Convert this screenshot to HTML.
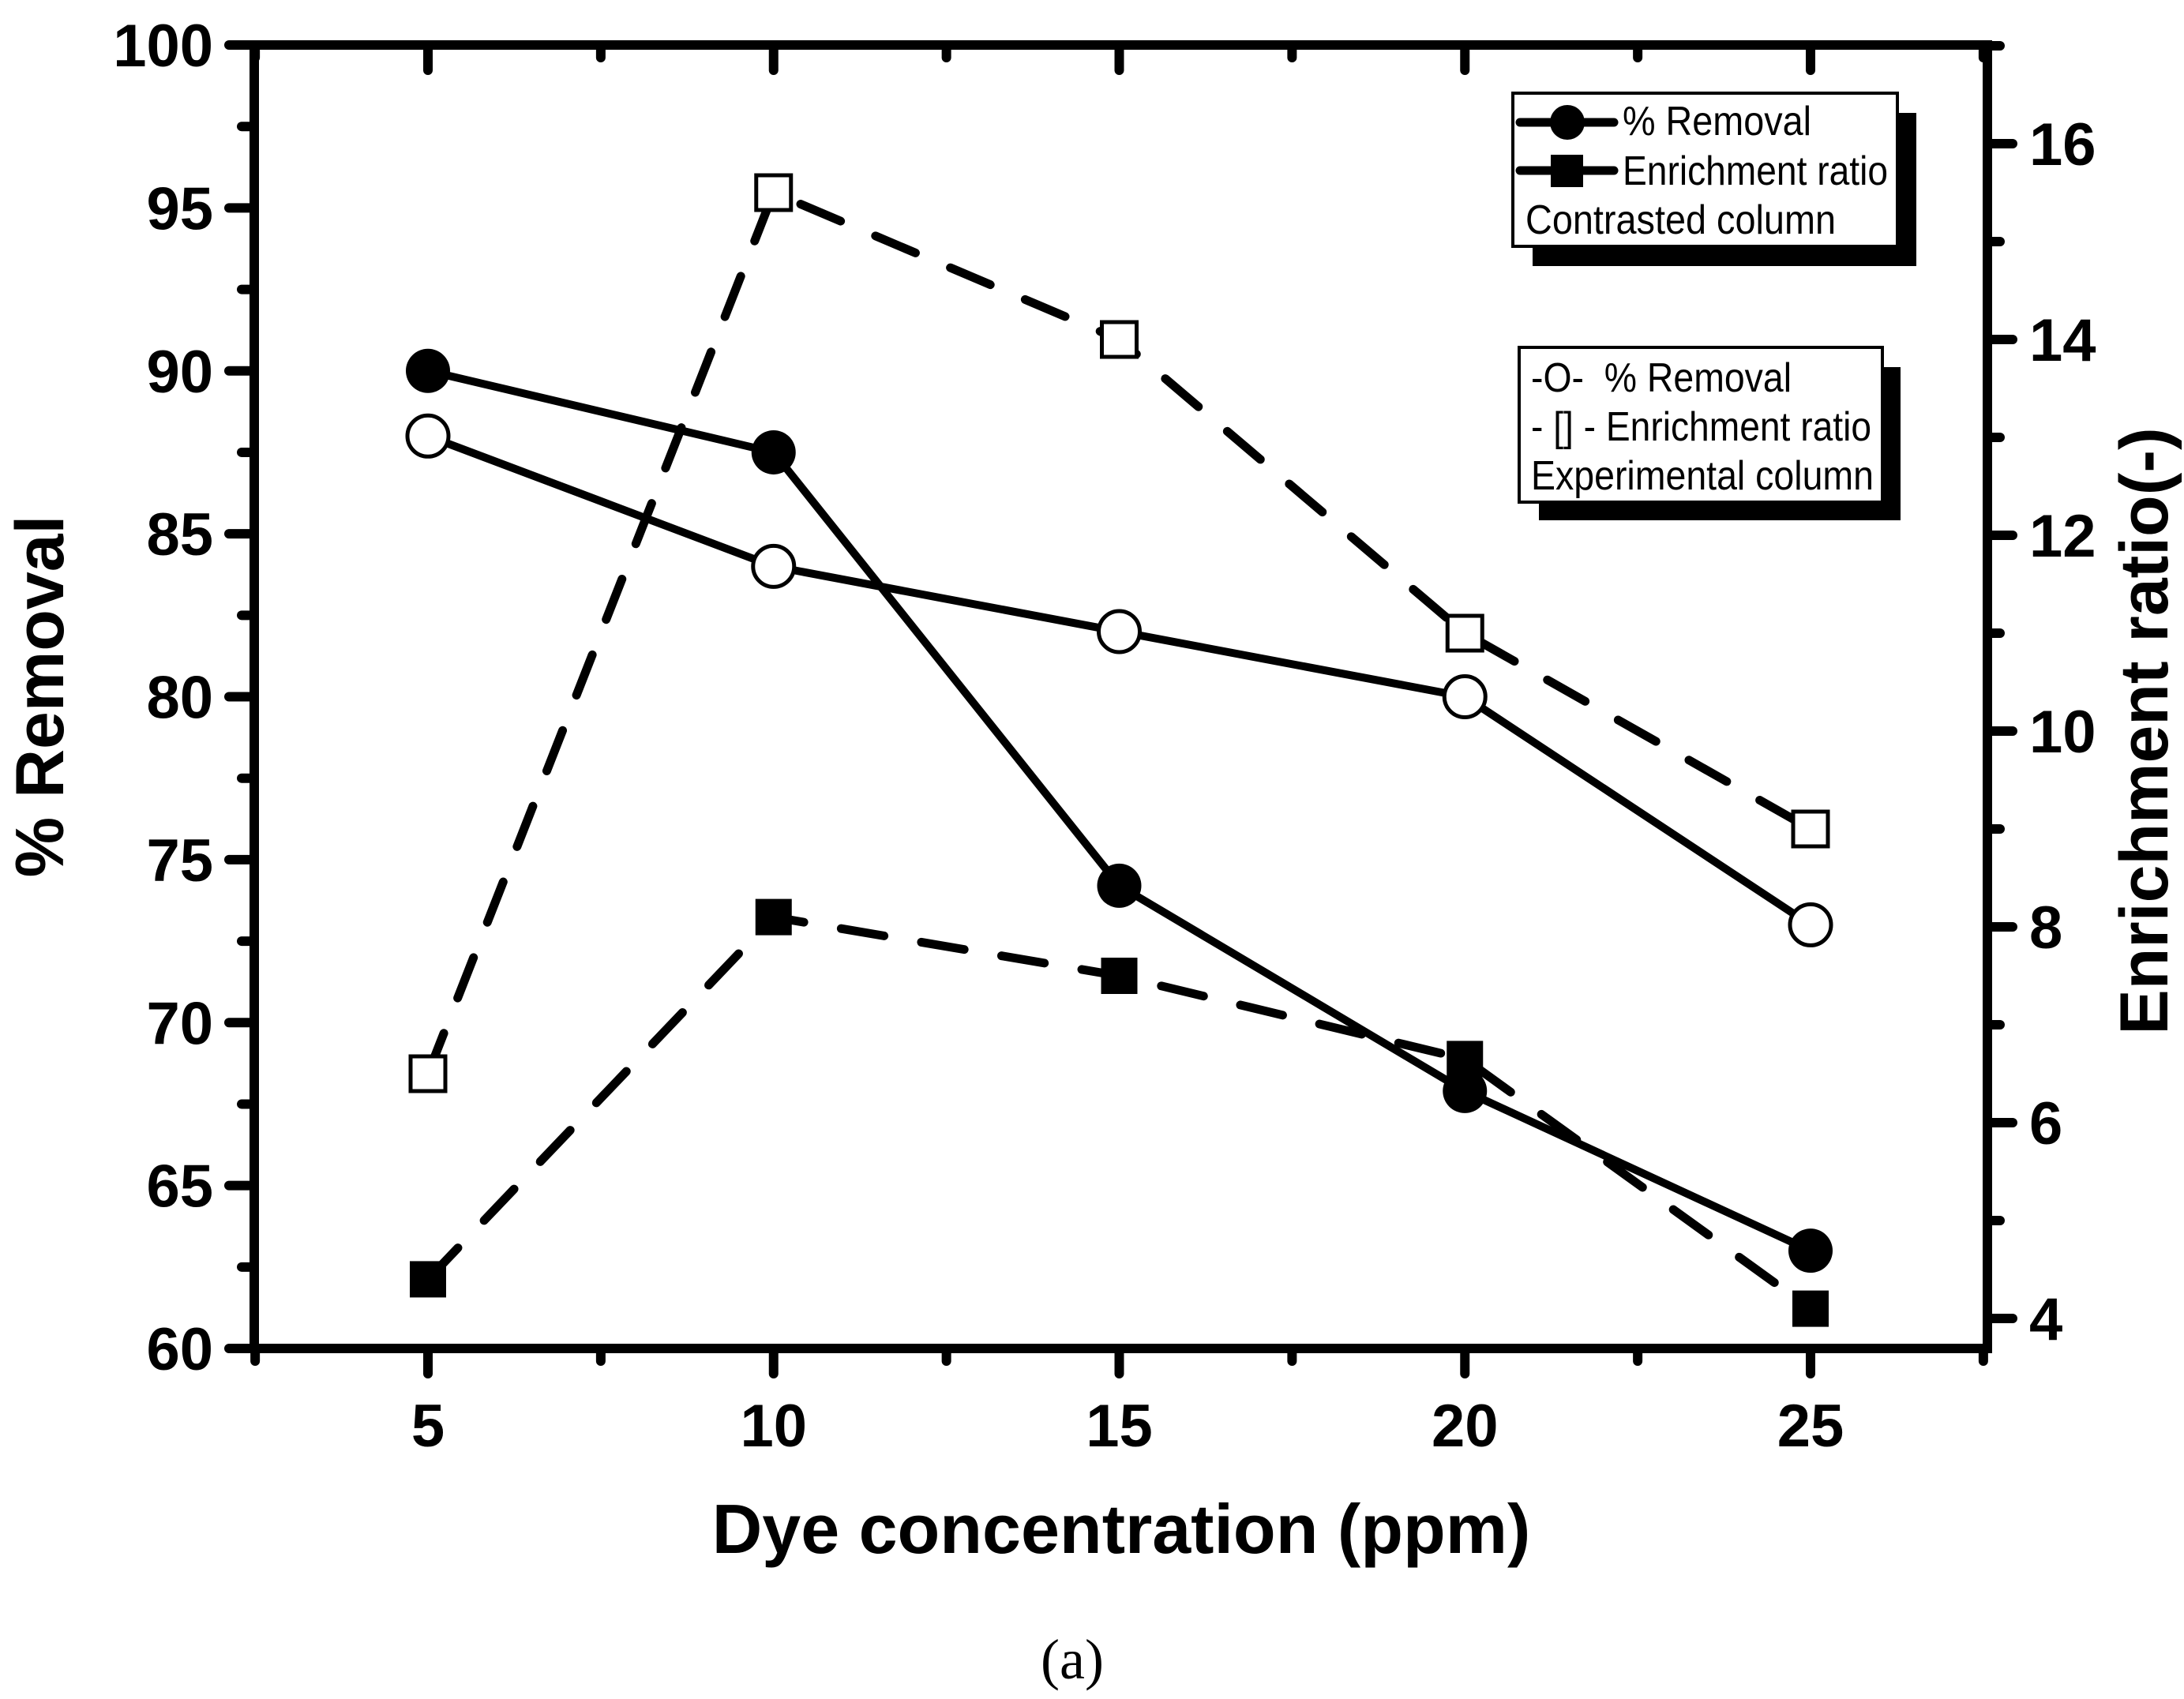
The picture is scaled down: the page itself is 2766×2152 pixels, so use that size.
<!DOCTYPE html>
<html><head><meta charset="utf-8"><style>
html,body{margin:0;padding:0;background:#fff;}
svg{display:block;}
</style></head><body>
<svg id="chart" width="2766" height="2152" viewBox="0 0 2766 2152" xmlns="http://www.w3.org/2000/svg" font-family="'Liberation Sans', sans-serif">
<rect width="2766" height="2152" fill="#fff"/>
<g id="series"></g>
<g id="axes"></g>
<text transform="translate(80,882) rotate(-90)" text-anchor="middle" font-size="86" font-weight="bold">% Removal</text>
<text transform="translate(2745,926) rotate(-90)" text-anchor="middle" font-size="86" font-weight="bold">Enrichment ratio(-)</text>
<text x="1420" y="1967" text-anchor="middle" font-size="88" font-weight="bold">Dye concentration (ppm)</text>
<text x="1358" y="2126" text-anchor="middle" font-size="72" font-family="'Liberation Serif', serif">(a)</text>
<g>
<rect x="1941" y="143" width="486" height="194" fill="#000"/>
<rect x="1916" y="118" width="487" height="194" fill="#fff" stroke="#000" stroke-width="4"/>
<line x1="1925" y1="155" x2="2044" y2="155" stroke="#000" stroke-width="11" stroke-linecap="round"/>
<circle cx="1985" cy="155" r="22" fill="#000"/>
<text x="2055" y="171" font-size="52" textLength="239" lengthAdjust="spacingAndGlyphs">% Removal</text>
<line x1="1925" y1="216" x2="2044" y2="216" stroke="#000" stroke-width="11" stroke-linecap="round"/>
<rect x="1964" y="196" width="41" height="41" fill="#000"/>
<text x="2055" y="234" font-size="52" textLength="336" lengthAdjust="spacingAndGlyphs">Enrichment ratio</text>
<text x="1932" y="296" font-size="52" textLength="393" lengthAdjust="spacingAndGlyphs">Contrasted column</text>
</g>
<g>
<rect x="1949" y="465" width="458" height="194" fill="#000"/>
<rect x="1924" y="440" width="460" height="196" fill="#fff" stroke="#000" stroke-width="4"/>
<text x="1939" y="496" font-size="52" textLength="330" lengthAdjust="spacingAndGlyphs">-O-&#160; % Removal</text>
<text x="1939" y="558" font-size="52" textLength="431" lengthAdjust="spacingAndGlyphs">- [] - Enrichment ratio</text>
<text x="1939" y="620" font-size="52" textLength="434" lengthAdjust="spacingAndGlyphs">Experimental column</text>
</g>
</svg>
<script>
const categories = [5, 10, 15, 20, 25];
const removalContrasted = [90, 87.5, 74.2, 67.9, 63.0];
const removalExperimental = [88, 84, 82, 80, 73];
const enrichmentContrasted = [4.4, 8.1, 7.5, 6.65, 4.1];
const enrichmentExperimental = [6.5, 15.5, 14.0, 11.0, 9.0];
const xTickLabels = [5, 10, 15, 20, 25];
const yTickLabels = [60, 65, 70, 75, 80, 85, 90, 95, 100];
const y2TickLabels = [4, 6, 8, 10, 12, 14, 16];

const L = 322, R = 2517, T = 57, B = 1708;
const X = v => 542 + (v - 5) * (2293 - 542) / 20;
const Y = v => B - (v - 60) * (B - T) / 40;
const Y2 = v => 1670 - (v - 4) * 124;
const NS = 'http://www.w3.org/2000/svg';
const ser = document.getElementById('series');
const axes = document.getElementById('axes');
function mk(tag, attrs, parent) {
  const e = document.createElementNS(NS, tag);
  for (const k in attrs) e.setAttribute(k, attrs[k]);
  parent.appendChild(e);
  return e;
}
function path(vals, yf, dashed, name) {
  const d = vals.map((v, i) => (i ? 'L' : 'M') + X(categories[i]) + ' ' + yf(v)).join(' ');
  const p = mk('path', {d: d, fill: 'none', stroke: '#000', 'stroke-width': dashed ? 11 : 10, 'stroke-linecap': 'round', 'stroke-linejoin': 'round'}, ser);
  if (dashed) p.setAttribute('stroke-dasharray', '55 48');
  
  
}
path(enrichmentExperimental, Y2, true, 'line-enrichment-experimental');
path(enrichmentContrasted, Y2, true, 'line-enrichment-contrasted');
path(removalExperimental, Y, false, 'line-removal-experimental');
path(removalContrasted, Y, false, 'line-removal-contrasted');
removalExperimental.forEach((v, i) => {
  const c = mk('circle', {cx: X(categories[i]), cy: Y(v), r: 26, fill: '#fff', stroke: '#000', 'stroke-width': 5}, ser);
  
  
});
removalContrasted.forEach((v, i) => {
  const c = mk('circle', {cx: X(categories[i]), cy: Y(v), r: 28, fill: '#000'}, ser);
  
  
});
enrichmentExperimental.forEach((v, i) => {
  const c = mk('rect', {x: X(categories[i]) - 22, y: Y2(v) - 22, width: 44, height: 44, fill: '#fff', stroke: '#000', 'stroke-width': 5}, ser);
  
  
});
enrichmentContrasted.forEach((v, i) => {
  const c = mk('rect', {x: X(categories[i]) - 23, y: Y2(v) - 23, width: 46, height: 46, fill: '#000'}, ser);
  
  
});
const frame = mk('rect', {x: L, y: T, width: R - L, height: B - T, fill: 'none', stroke: '#000', 'stroke-width': 12}, axes);


function tick(x1, y1, x2, y2, name) {
  const t = mk('line', {x1: x1, y1: y1, x2: x2, y2: y2, stroke: '#000', 'stroke-width': 12, 'stroke-linecap': 'round'}, axes);
  
  
}
for (let v = 2.5; v <= 27.6; v += 2.5) {
  const major = xTickLabels.includes(v);
  const len = major ? 32 : 16;
  tick(X(v), B, X(v), B + len, 'x-tick');
  tick(X(v), T, X(v), T + len, 'x-tick-top');
}
xTickLabels.forEach(v => {
  const t = mk('text', {x: X(v), y: 1832, 'text-anchor': 'middle', 'font-size': 76, 'font-weight': 'bold'}, axes);
  t.textContent = v;
  
  
});
for (let v = 60; v <= 100; v += 2.5) {
  const major = yTickLabels.includes(v);
  tick(L, Y(v), L - (major ? 32 : 16), Y(v), 'y-tick');
}
yTickLabels.forEach(v => {
  const t = mk('text', {x: 270, y: Y(v) + 27, 'text-anchor': 'end', 'font-size': 76, 'font-weight': 'bold'}, axes);
  t.textContent = v;
  
  
});
for (let v = 4; v <= 17; v += 1) {
  const major = y2TickLabels.includes(v);
  tick(R, Y2(v), R + (major ? 32 : 16), Y2(v), 'y2-tick');
}
y2TickLabels.forEach(v => {
  const t = mk('text', {x: 2570, y: Y2(v) + 27, 'text-anchor': 'start', 'font-size': 76, 'font-weight': 'bold'}, axes);
  t.textContent = v;
  
  
});
</script>
</body></html>
